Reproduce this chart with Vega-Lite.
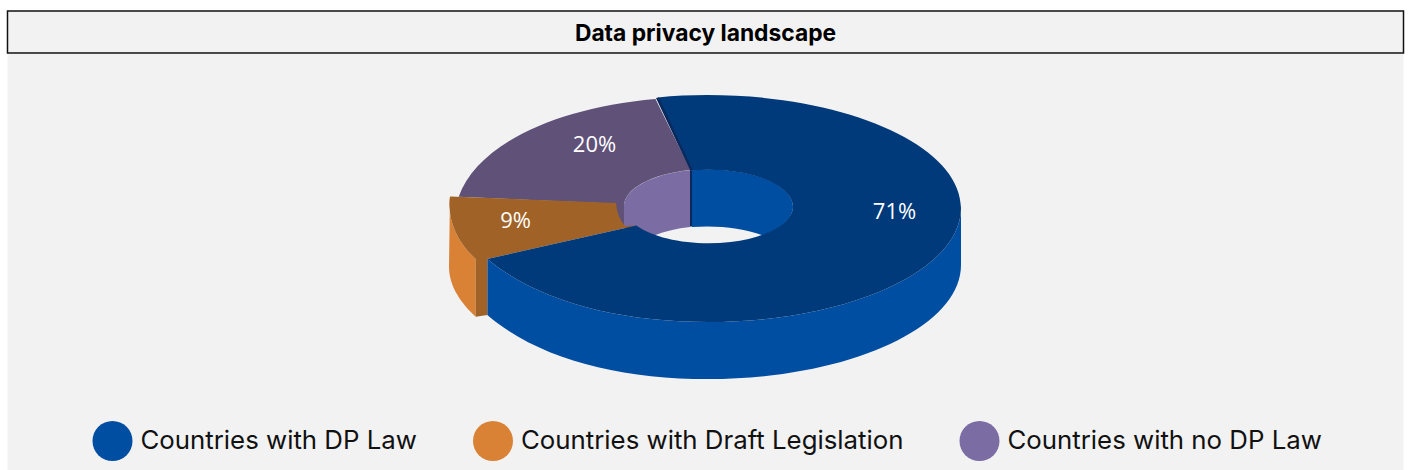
{"$schema":"https://vega.github.io/schema/vega-lite/v6.json","description":"Data privacy landscape: 3D-style donut; each slice row is drawn through an ordinal shape scale of path outlines.","background":"#ffffff","padding":{"left":6.5,"top":10,"right":4,"bottom":0},"spacing":0,"vconcat":[{"width":1396,"height":42,"view":{"stroke":"#111111","strokeWidth":1.5,"fill":"#f2f2f2"},"data":{"values":[{"title":"Data privacy landscape"}]},"mark":{"type":"text","font":"Inter","fontWeight":"bold","fontSize":22.8,"color":"#000000","baseline":"middle","align":"center","dy":1.5},"encoding":{"text":{"field":"title"}}},{"width":1396,"height":417,"view":{"stroke":null,"fill":"#f2f2f2"},"data":{"values":[{"category":"Countries with no DP Law","share":20,"label":"20%"},{"category":"Countries with Draft Legislation","share":9,"label":"9%"},{"category":"Countries with DP Law","share":71,"label":"71%"}]},"resolve":{"scale":{"color":"independent","shape":"independent"}},"layer":[{"mark":{"type":"point","filled":true,"opacity":1,"size":0},"encoding":{"color":{"field":"category","type":"nominal","scale":{"domain":["Countries with DP Law","Countries with Draft Legislation","Countries with no DP Law"],"range":["#004ea2","#d98235","#7b6ca3"]},"legend":{"title":null,"orient":"none","legendX":84,"legendY":366,"direction":"horizontal","columns":3,"columnPadding":54.5,"padding":0,"symbolType":"circle","symbolSize":1600,"symbolOpacity":1,"labelFont":"Inter","labelFontSize":25.8,"labelColor":"#111111","labelOffset":7,"labelLimit":500}}}},{"mark":{"type":"point","filled":true,"opacity":1,"size":4,"yOffset":-1,"xOffset":-0.5},"encoding":{"color":{"field":"category","type":"nominal","legend":null,"scale":{"domain":["Countries with DP Law","Countries with Draft Legislation","Countries with no DP Law"],"range":["#004ea2","#d98235","#7b6ca3"]}},"shape":{"field":"category","type":"nominal","legend":null,"scale":{"domain":["Countries with DP Law","Countries with Draft Legislation","Countries with no DP Law"],"range":["M256,-53.5 L256,3.5 C256,66.1 143,117.5 3,117.5 C-86,117.5 -166,97.5 -217.7,53.5 L-217.7,-2.5 C-166,40.5 -86,60.5 3,60.5 C143,60.5 256,9.1 256,-53.5 Z M-13,-91.2 A84.5,37 0 0 1 88,-54.7 A84.5,37 0 0 1 57.4,-26.2 A84.5,37 0 0 0 -13,-34.5 Z","M-255,-65 L-256,5.2 C-256,25.5 -243,42.5 -229.3,55.2 L-229.3,-2.5 C-248,-19.5 -258,-41.5 -255,-65 Z","M-15,-91.3 A84.5,37 0 0 0 -81,-54.7 L-81,-34 L-50.4,-26.2 A84.5,37 0 0 1 -15,-34.5 Z"]}}}},{"mark":{"type":"point","filled":true,"opacity":1,"size":4,"yOffset":-1,"xOffset":-0.5},"encoding":{"color":{"field":"category","type":"nominal","legend":null,"scale":{"domain":["Countries with DP Law","Countries with Draft Legislation","Countries with no DP Law"],"range":["#003a7a","#a06226","#5f5178"]}},"shape":{"field":"category","type":"nominal","legend":null,"scale":{"domain":["Countries with DP Law","Countries with Draft Legislation","Countries with no DP Law"],"range":["M-47.3,-164 C-31,-165.8 -14,-166.5 2,-166.5 C143,-166.5 256,-115.5 256,-53.5 C256,9.1 143,60.5 3,60.5 C-86,60.5 -166,40.5 -217.7,-2.5 L-68.7,-36 A84.5,37 0 0 0 88,-54.7 A84.5,37 0 0 0 -13,-91 L-47.3,-164 Z","M-255,-65 L-89,-58.5 Q-88,-44.5 -80,-35.5 L-68.7,-36 L-217.7,-2.5 L-229.3,-2.5 C-248,-19.5 -258,-41.5 -255,-65 Z M-229.3,-2.5 L-217.7,-5 L-217.7,53.5 L-229.3,55.2 Z","M-246.3,-64.8 C-228,-116.5 -151,-153.5 -49.5,-162.5 L-14.5,-91.5 A84.5,37 0 0 0 -81,-54.7 L-81,-35.5 L-94,-35.5 L-94,-58 Z"]}}}},{"transform":[{"filter":"datum.share == 71"}],"mark":{"type":"point","filled":true,"opacity":1,"size":4,"yOffset":-1,"xOffset":-0.5,"fill":"#0a2a5e","shape":"M-49,-163.5 L-46,-164 L-12,-91 L-15,-91.5 Z M-15,-91.5 L-13,-91 L-13,-35 L-15,-35 Z"},"encoding":{}},{"mark":{"type":"text","font":"Open Sans","fontSize":22,"color":"#ffffff","align":"center","baseline":"middle","dx":{"expr":"datum.share == 71 ? 189 : datum.share == 9 ? -190 : -111"},"dy":{"expr":"datum.share == 71 ? -50.5 : datum.share == 9 ? -41.5 : -117.5"}},"encoding":{"text":{"field":"label"}}}]}]}
